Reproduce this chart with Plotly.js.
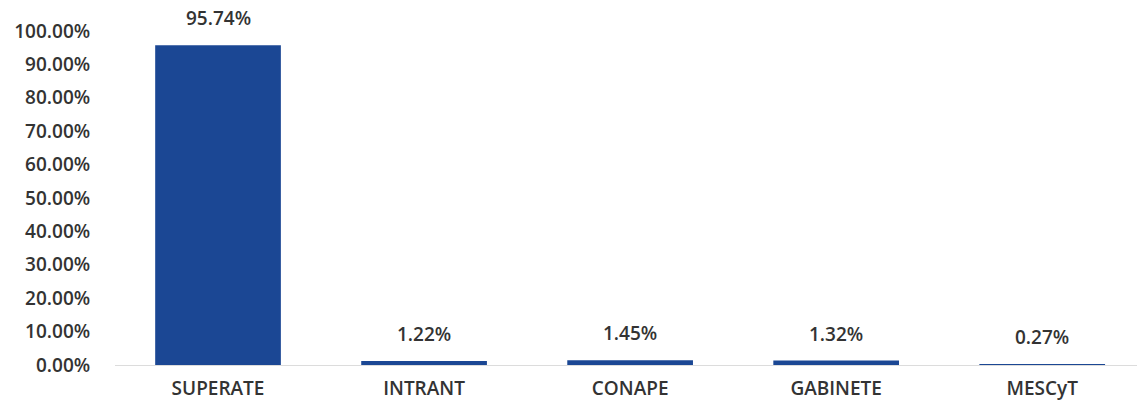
<!DOCTYPE html>
<html>
<head>
<meta charset="utf-8">
<script src="https://cdn.plot.ly/plotly-3.0.1.min.js"></script>
<style>html,body{margin:0;padding:0;background:#fff;}#chart{width:1137px;height:405px;}</style>
</head>
<body>
<div id="chart"></div>
<script>
const categories = ["SUPERATE", "INTRANT", "CONAPE", "GABINETE", "MESCyT"];
const values = [95.74, 1.22, 1.45, 1.32, 0.27];
const valueLabels = ["95.74%", "1.22%", "1.45%", "1.32%", "0.27%"];
const yTickValues = [0, 10, 20, 30, 40, 50, 60, 70, 80, 90, 100];
const yTickLabels = ["0.00%", "10.00%", "20.00%", "30.00%", "40.00%", "50.00%", "60.00%", "70.00%", "80.00%", "90.00%", "100.00%"];

const fontFam = "'Open Sans', Lato, sans-serif";
const textColor = "#333333";

const trace = {
  type: "bar",
  x: categories,
  y: values,
  width: 0.61,
  marker: {color: "#1b4794"},
  hoverinfo: "none"
};

const annotations = categories.map((c, i) => ({
  x: c, y: values[i], xref: "x", yref: "y",
  text: valueLabels[i], showarrow: false,
  yanchor: "bottom", yshift: 12,
  font: {family: fontFam, size: 19, color: textColor, weight: 600}
}));

const layout = {
  width: 1137, height: 405,
  margin: {l: 115, r: 0, t: 31, b: 40, autoexpand: false},
  paper_bgcolor: "#ffffff",
  plot_bgcolor: "#ffffff",
  showlegend: false,
  xaxis: {
    type: "category",
    range: [-0.5, 4.46],
    showgrid: false, zeroline: false,
    showline: true, linecolor: "#dcdcdc", linewidth: 1,
    ticks: "outside", ticklen: 6, tickcolor: "rgba(0,0,0,0)",
    tickfont: {family: fontFam, size: 19, color: textColor, weight: 600}
  },
  yaxis: {
    range: [0, 100],
    tickvals: yTickValues, ticktext: yTickLabels,
    showgrid: false, zeroline: false, showline: false,
    ticks: "outside", ticklen: 20, tickcolor: "rgba(0,0,0,0)",
    tickfont: {family: fontFam, size: 19, color: textColor, weight: 600}
  },
  annotations: annotations
};

Plotly.newPlot("chart", [trace], layout, {displayModeBar: false, staticPlot: true});
</script>
</body>
</html>
